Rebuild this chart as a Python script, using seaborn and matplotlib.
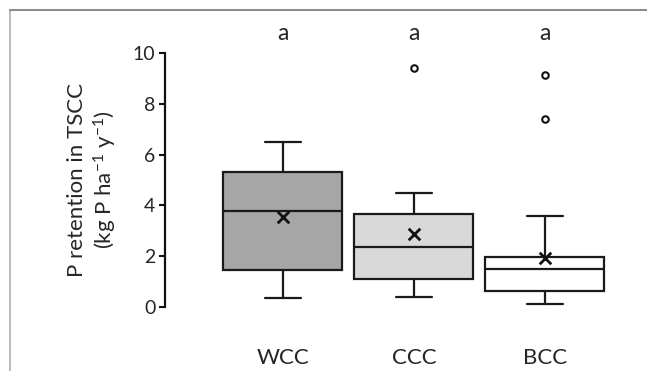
import matplotlib
matplotlib.use("Agg")
import matplotlib.pyplot as plt
from matplotlib.lines import Line2D
import seaborn as sns
import pandas as pd

categories = ["WCC", "CCC", "BCC"]
whislo = [0.34, 0.39, 0.09]
q1 = [1.45, 1.08, 0.62]
med = [3.78, 2.37, 1.47]
q3 = [5.33, 3.64, 1.95]
whishi = [6.51, 4.47, 3.59]
means = [3.55, 2.86, 1.93]
fliers = [[], [9.41], [7.39, 9.14]]
letters = ["a", "a", "a"]
box_colors = ["#a6a6a6", "#d9d9d9", "#ffffff"]
ylabel = "P retention in TSCC\n(kg P ha$^{-1}$ y$^{-1}$)"

sns.set_style("white")
plt.rcParams["font.family"] = ["Lato", "DejaVu Sans"]
plt.rcParams["mathtext.fontset"] = "custom"
plt.rcParams["mathtext.rm"] = "Lato"
plt.rcParams["mathtext.it"] = "Lato:italic"

fig = plt.figure(figsize=(6.47, 3.71), dpi=100)
ax = fig.add_axes([0.255, 0.1733, 0.745, 0.683])

stats = []
for i, c in enumerate(categories):
    stats.append(dict(label=c, whislo=whislo[i], q1=q1[i], med=med[i], q3=q3[i],
                      whishi=whishi[i], fliers=[], mean=means[i]))

lw = 1.6
bp = ax.bxp(stats, positions=range(len(categories)), widths=0.91, patch_artist=True,
            showfliers=False, showmeans=False,
            boxprops=dict(edgecolor="#1a1a1a", linewidth=lw),
            medianprops=dict(color="#1a1a1a", linewidth=lw),
            whiskerprops=dict(color="#1a1a1a", linewidth=lw),
            capprops=dict(color="#1a1a1a", linewidth=lw),
            capwidths=0.27, manage_ticks=False)
for patch, col in zip(bp["boxes"], box_colors):
    patch.set_facecolor(col)

mean_df = pd.DataFrame({"pos": range(len(categories)), "mean": means})
sns.scatterplot(data=mean_df, x="pos", y="mean", marker="x", s=70, color="#111111",
                linewidth=2.0, ax=ax, zorder=5, legend=False)

fx, fy = [], []
for i, fl in enumerate(fliers):
    for v in fl:
        fx.append(i)
        fy.append(v)
flier_df = pd.DataFrame({"pos": fx, "val": fy})
sns.scatterplot(data=flier_df, x="pos", y="val", marker="o", s=22, facecolor="white",
                edgecolor="#111111", linewidth=1.5, ax=ax, zorder=5, legend=False)

for i, t in enumerate(letters):
    ax.text(i, 10.8, t, ha="center", va="center", fontsize=16.5, clip_on=False)

ax.set_xlim(-0.9, 2.78)
ax.set_ylim(0, 10)
ax.set_yticks([0, 2, 4, 6, 8, 10])
ax.set_xticks(range(len(categories)))
ax.set_xticklabels(categories, fontsize=16)
ax.tick_params(axis="x", length=0, pad=30)
ax.tick_params(axis="y", left=True, length=4, width=1.5, labelsize=14, pad=3, color="#111111")
ax.set_xlabel("")
ax.set_ylabel(ylabel, fontsize=16, labelpad=10, linespacing=1.2)
for s in ["top", "right", "bottom"]:
    ax.spines[s].set_visible(False)
ax.spines["left"].set_linewidth(1.6)
ax.spines["left"].set_color("#111111")

fig.add_artist(Line2D([10 / 647, 10 / 647], [0, 1 - 10 / 371], transform=fig.transFigure,
                      color="#bdbdbd", linewidth=1.5))
fig.add_artist(Line2D([10 / 647, 1], [1 - 10 / 371, 1 - 10 / 371], transform=fig.transFigure,
                      color="#8c8c8c", linewidth=1.5))

fig.savefig("out.png", dpi=100)
